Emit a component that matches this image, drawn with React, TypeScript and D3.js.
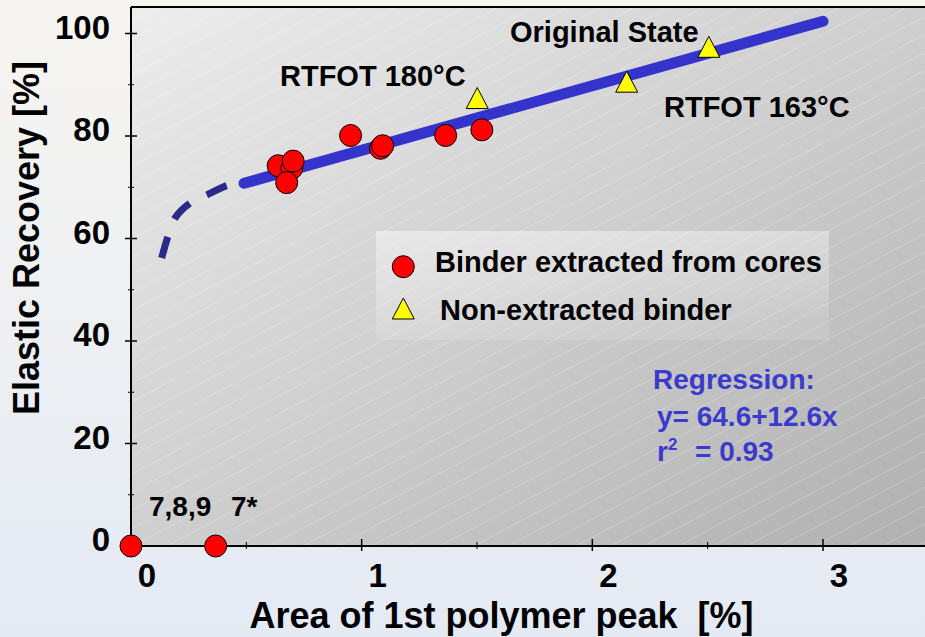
import React from 'react';
import * as d3 from 'd3';

// binder extracted from cores (red circles)
const coreX = [0, 0.367, 0.638, 0.697, 0.703, 0.675, 0.952, 1.082, 1.091, 1.364, 1.521];
const coreY = [0, 0, 74.2, 73.7, 75.1, 70.9, 80.1, 77.6, 78.1, 80.1, 81.2];

// non-extracted binder (yellow triangles)
const nonX = [1.501, 2.149, 2.505];
const nonY = [87.4, 90.6, 97.4];

// dashed extrapolation towards zero
const dashX = [0.133, 0.16, 0.191, 0.256, 0.329, 0.42, 0.494];
const dashY = [56.2, 60.4, 64.0, 66.9, 68.5, 70.4, 71.1];

// regression y = a + b x
const regA = 64.6;
const regB = 12.6;
const regFrom = 0.49;
const regTo = 3.0;

const yMajor = [0, 20, 40, 60, 80, 100];
const yMinor = [10, 30, 50, 70, 90];
const xMajor = [0, 1, 2, 3];
const xMinor = [0.5, 1.5, 2.5];

const W = 925;
const H = 637;
const FONT = '"Liberation Sans", Arial, sans-serif';

const App: React.FC = () => {
  const x = d3.scaleLinear().domain([0, 3]).range([131, 823]);
  const y = d3.scaleLinear().domain([0, 100]).range([546, 33.5]);
  const x0 = x(0);
  const y0 = y(0);
  const top = 7;

  const dashLine = d3.line<number>()
    .x((_, i) => x(dashX[i]))
    .y((d) => y(d))
    .curve(d3.curveCatmullRom);

  const tri = (cx: number, cy: number) =>
    `M${cx},${cy - 10.5}L${cx + 11},${cy + 10.5}L${cx - 11},${cy + 10.5}Z`;

  return (
    <svg width={W} height={H} style={{ position: 'absolute', left: 0, top: 0, display: 'block' }}
      fontFamily={FONT} fontWeight="bold">
      <defs>
        <linearGradient id="bg" x1="0" y1="0" x2="0" y2="1">
          <stop offset="0" stopColor="#f7f5f1" />
          <stop offset="1" stopColor="#e4eaf4" />
        </linearGradient>
        <linearGradient id="plot" x1="0" y1="0" x2="1" y2="1">
          <stop offset="0" stopColor="#ededed" />
          <stop offset="1" stopColor="#b0b0b0" />
        </linearGradient>
        <linearGradient id="leg" x1="0" y1="0" x2="0.3" y2="1">
          <stop offset="0" stopColor="#ffffff" stopOpacity="0.45" />
          <stop offset="1" stopColor="#ffffff" stopOpacity="0.12" />
        </linearGradient>
        <pattern id="hatch" width="40" height="16" patternUnits="userSpaceOnUse"
          patternTransform="rotate(-28)">
          <line x1="0" y1="0.5" x2="40" y2="0.5" stroke="#ffffff" strokeOpacity="0.28" strokeWidth="0.8" />
        </pattern>
      </defs>

      <rect x={0} y={0} width={W} height={H} fill="url(#bg)" />
      <rect x={x0} y={top} width={W - x0} height={y0 - top} fill="url(#plot)" />
      <rect x={x0} y={top} width={W - x0} height={y0 - top} fill="url(#hatch)" />

      {/* legend box */}
      <rect x={376} y={231} width={453} height={109} fill="url(#leg)" />

      {/* frame */}
      <line x1={x0} y1={top} x2={W} y2={top} stroke="#000" strokeWidth={2} />
      <line x1={x0} y1={top} x2={x0} y2={y0} stroke="#000" strokeWidth={2} />
      <line x1={x0} y1={y0} x2={W} y2={y0} stroke="#000" strokeWidth={2} />

      {yMajor.map((v) => (
        <line key={'ym' + v} x1={x0 - 6} x2={x0 + 6} y1={y(v)} y2={y(v)} stroke="#000" strokeWidth={1.5} />
      ))}
      {yMinor.map((v) => (
        <line key={'yn' + v} x1={x0 - 3} x2={x0 + 3} y1={y(v)} y2={y(v)} stroke="#000" strokeWidth={1} />
      ))}
      {xMajor.slice(1).map((v) => (
        <line key={'xm' + v} x1={x(v)} x2={x(v)} y1={y0 - 7} y2={y0 + 5} stroke="#000" strokeWidth={1.5} />
      ))}
      {xMinor.map((v) => (
        <line key={'xn' + v} x1={x(v)} x2={x(v)} y1={y0 - 4} y2={y0 + 3} stroke="#000" strokeWidth={1} />
      ))}

      {yMajor.map((v) => (
        <text key={'yl' + v} x={110} y={y(v) + 5} textAnchor="end" fontSize={33} fill="#000">{v}</text>
      ))}
      {xMajor.map((v) => (
        <text key={'xl' + v} x={x(v) + 16} y={587} textAnchor="middle" fontSize={33} fill="#000">{v}</text>
      ))}

      <text transform="translate(38.5,238) rotate(-90)" textAnchor="middle" fontSize={36} fill="#000">
        Elastic Recovery [%]
      </text>
      <text x={501.5} y={628} textAnchor="middle" fontSize={36} fill="#000" style={{ whiteSpace: 'pre' }}>
        {'Area of 1st polymer peak  [%]'}
      </text>

      {/* regression line + extrapolation */}
      <path d={dashLine(dashY) || ''} fill="none" stroke="#2a2a8a" strokeWidth={7} strokeDasharray="22 19" />
      <line x1={x(regFrom)} y1={y(regA + regB * regFrom)} x2={x(regTo)} y2={y(regA + regB * regTo)}
        stroke="#3434cc" strokeWidth={11} strokeLinecap="round" />

      {coreX.map((v, i) => (
        <circle key={'c' + i} cx={x(v)} cy={y(coreY[i])} r={11} fill="#ff0000" stroke="#000" strokeWidth={1} />
      ))}
      {nonX.map((v, i) => (
        <path key={'t' + i} d={tri(x(v), y(nonY[i]))} fill="#ffff00" stroke="#000" strokeWidth={1} />
      ))}

      {/* annotations */}
      <text x={510} y={42} fontSize={29} fill="#000">Original State</text>
      <text x={280} y={86} fontSize={29} fill="#000">RTFOT 180°C</text>
      <text x={664} y={117} fontSize={29} fill="#000">RTFOT 163°C</text>
      <text x={149} y={516} fontSize={28} fill="#000">7,8,9</text>
      <text x={231} y={516} fontSize={28} fill="#000">7*</text>

      {/* legend */}
      <circle cx={403.3} cy={266.7} r={11} fill="#ff0000" stroke="#000" strokeWidth={1} />
      <text x={435} y={272} fontSize={29} fill="#000">Binder extracted from cores</text>
      <path d={tri(403.3, 308.5)} fill="#ffff00" stroke="#000" strokeWidth={1} />
      <text x={440} y={320} fontSize={29} fill="#000">Non-extracted binder</text>

      {/* regression text */}
      <g fill="#3a3acc" fontSize={28}>
        <text x={653} y={389}>Regression:</text>
        <text x={657} y={426}>y= 64.6+12.6x</text>
        <text x={657} y={461}>
          r<tspan fontSize={17} dy={-11}>2</tspan>
          <tspan dy={11} x={695}>= 0.93</tspan>
        </text>
      </g>
    </svg>
  );
};

export default App;
